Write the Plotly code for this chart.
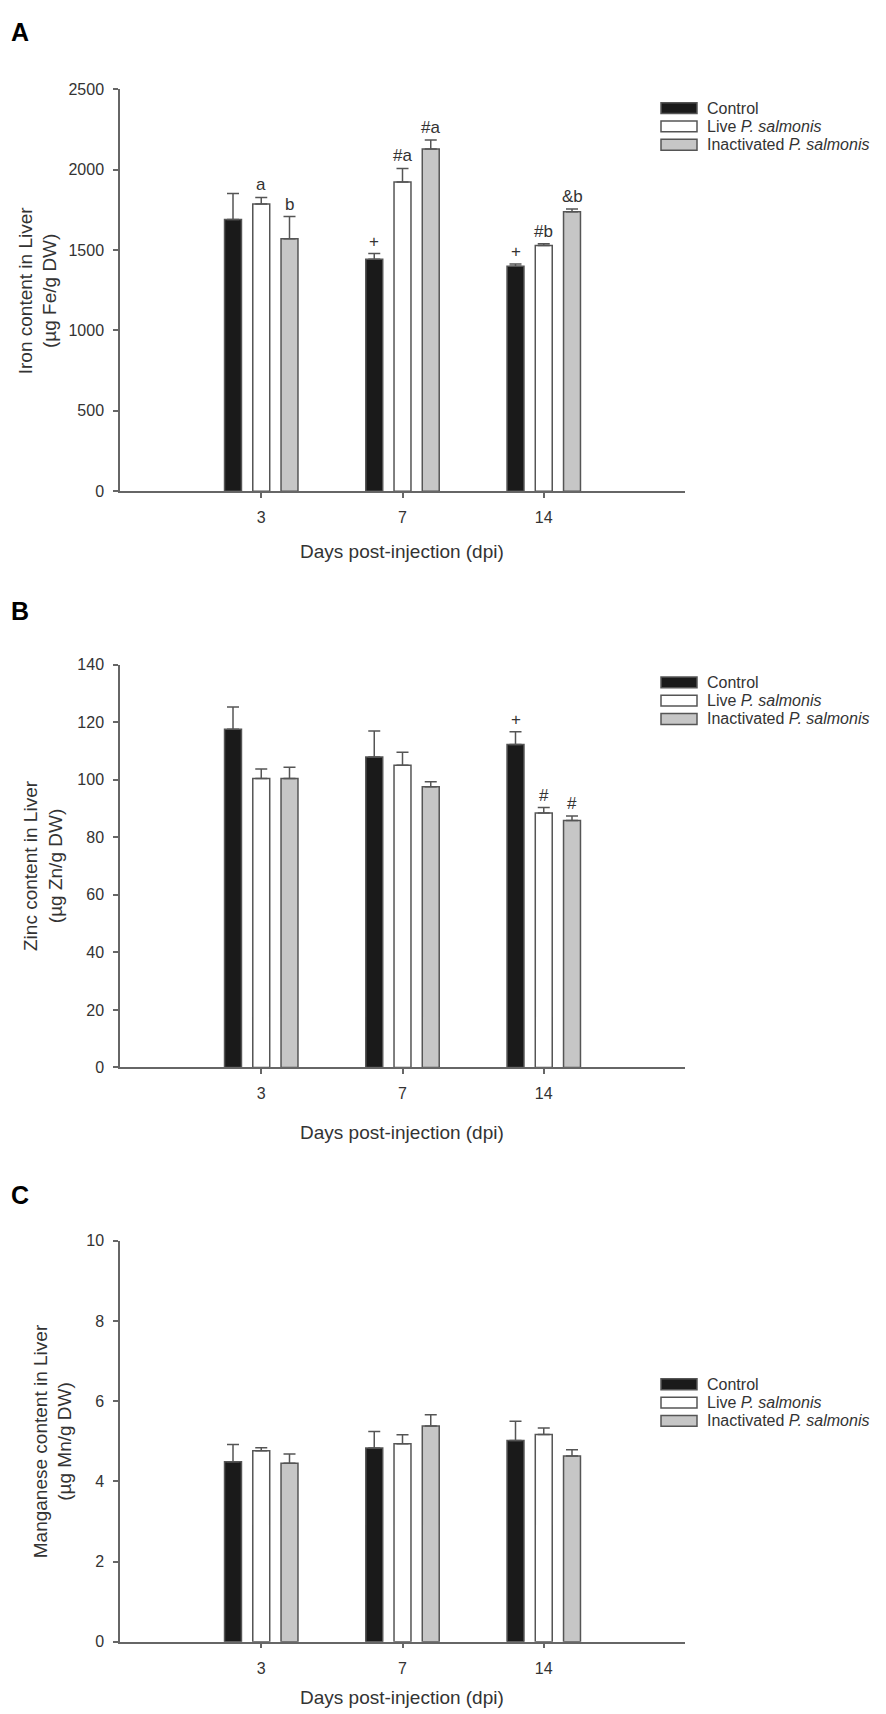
import plotly.graph_objects as go
from plotly.subplots import make_subplots

W, H = 886, 1714

days = ['3', '7', '14']
group_names = ['Control', 'Live <i>P. salmonis</i>', 'Inactivated <i>P. salmonis</i>']
group_fill = ['#1a1a1a', '#ffffff', '#c6c6c6']

# panel A - iron (µg Fe/g DW), mean and upper SE
iron_control = [1690, 1443, 1400]
iron_control_se = [162, 35, 14]
iron_live = [1786, 1923, 1528]
iron_live_se = [41, 85, 11]
iron_inact = [1570, 2128, 1738]
iron_inact_se = [138, 57, 17]
iron_marks = [['', '+', '+'], ['a', '#a', '#b'], ['b', '#a', '&b']]

# panel B - zinc (µg Zn/g DW)
zinc_control = [117.5, 107.9, 112.2]
zinc_control_se = [7.7, 9.0, 4.4]
zinc_live = [100.4, 105.0, 88.4]
zinc_live_se = [3.3, 4.5, 1.9]
zinc_inact = [100.4, 97.5, 85.8]
zinc_inact_se = [3.9, 1.8, 1.6]
zinc_marks = [['', '', '+'], ['', '', '#'], ['', '', '#']]

# panel C - manganese (µg Mn/g DW)
mn_control = [4.49, 4.83, 5.02]
mn_control_se = [0.43, 0.41, 0.48]
mn_live = [4.76, 4.94, 5.17]
mn_live_se = [0.08, 0.22, 0.16]
mn_inact = [4.45, 5.38, 4.63]
mn_inact_se = [0.23, 0.28, 0.16]
mn_marks = [['', '', ''], ['', '', ''], ['', '', '']]

panels = [
    dict(letter='A', ytitle='Iron content in Liver<br>(µg Fe/g DW)', yrange=[0, 2500], dtick=500,
         means=[iron_control, iron_live, iron_inact],
         errs=[iron_control_se, iron_live_se, iron_inact_se], marks=iron_marks,
         top=74, bottom=480, letter_y=16, ytitle_x=30, xtitle_y=541, legend_y=93),
    dict(letter='B', ytitle='Zinc content in Liver<br>(µg Zn/g DW)', yrange=[0, 140], dtick=20,
         means=[zinc_control, zinc_live, zinc_inact],
         errs=[zinc_control_se, zinc_live_se, zinc_inact_se], marks=zinc_marks,
         top=655, bottom=1062, letter_y=601, ytitle_x=35, xtitle_y=1128, legend_y=673),
    dict(letter='C', ytitle='Manganese content in Liver<br>(µg Mn/g DW)', yrange=[0, 10], dtick=2,
         means=[mn_control, mn_live, mn_inact],
         errs=[mn_control_se, mn_live_se, mn_inact_se], marks=mn_marks,
         top=1237, bottom=1642, letter_y=1191, ytitle_x=45, xtitle_y=1698, legend_y=1382),
]

FONT = 'Liberation Sans, Arial, sans-serif'
TXT = '#333333'
AX = '#666666'
offsets = [-0.2, 0.0, 0.2]


def px(v):
    return v / W


def py(v):
    return 1 - v / H


fig = make_subplots(rows=3, cols=1)
annotations = []
shapes = []

for i, p in enumerate(panels):
    row = i + 1
    sfx = '' if row == 1 else str(row)
    for j in range(3):
        fig.add_trace(go.Bar(
            x=days, y=p['means'][j], name=group_names[j],
            marker=dict(color=group_fill[j], line=dict(color='#555555', width=1.5)),
            error_y=dict(type='data', array=p['errs'][j], arrayminus=[0] * 3, symmetric=False,
                         color='#555555', thickness=1.5, width=6),
            showlegend=False,
        ), row=row, col=1)
        # significance marks above the error bars
        for k, m in enumerate(p['marks'][j]):
            if m:
                annotations.append(dict(
                    x=k + offsets[j], y=p['means'][j][k] + p['errs'][j][k],
                    xref='x' + sfx, yref='y' + sfx, text=m, showarrow=False,
                    yanchor='bottom', yshift=1, font=dict(size=17, color=TXT, family=FONT)))

    fig.update_xaxes(type='category', range=[-1, 3], domain=[px(112), px(677)],
                     showline=True, linecolor=AX, linewidth=1.5, ticks='outside',
                     ticklen=5, tickwidth=1.5, tickcolor=AX, showgrid=False, zeroline=False,
                     tickfont=dict(size=16, color=TXT, family=FONT), ticklabelstandoff=6,
                     row=row, col=1)
    fig.update_yaxes(range=p['yrange'], dtick=p['dtick'], domain=[py(p['bottom']), py(p['top'])],
                     showline=True, linecolor=AX, linewidth=1.5, ticks='outside',
                     ticklen=5, tickwidth=1.5, tickcolor=AX, showgrid=False, zeroline=False,
                     tickfont=dict(size=16, color=TXT, family=FONT), ticklabelstandoff=6,
                     row=row, col=1)

    # panel letter
    annotations.append(dict(x=px(1), y=py(p['letter_y']), xref='paper', yref='paper',
                            text='<b>' + p['letter'] + '</b>', showarrow=False,
                            xanchor='left', yanchor='middle',
                            font=dict(size=25, color='#000000', family=FONT)))
    # axis titles
    annotations.append(dict(x=px(p['ytitle_x']), y=py((p['top'] + p['bottom']) / 2),
                            xref='paper', yref='paper', text=p['ytitle'], showarrow=False,
                            textangle=-90, xanchor='center', yanchor='middle',
                            font=dict(size=19, color=TXT, family=FONT)))
    annotations.append(dict(x=px(394), y=py(p['xtitle_y']), xref='paper', yref='paper',
                            text='Days post-injection (dpi)', showarrow=False,
                            xanchor='center', yanchor='middle',
                            font=dict(size=19, color=TXT, family=FONT)))
    # legend box
    for j in range(3):
        yc = p['legend_y'] + j * 18.5
        shapes.append(dict(type='rect', xref='paper', yref='paper',
                           x0=px(653), x1=px(689), y0=py(yc + 5.5), y1=py(yc - 5.5),
                           fillcolor=group_fill[j], line=dict(color='#555555', width=1.5)))
        annotations.append(dict(x=px(697), y=py(yc), xref='paper', yref='paper',
                                text=group_names[j], showarrow=False,
                                xanchor='left', yanchor='middle',
                                font=dict(size=16, color=TXT, family=FONT)))

fig.update_layout(
    width=W, height=H,
    margin=dict(l=0, r=0, t=0, b=0),
    barmode='group', bargap=0.4, bargroupgap=0.4,
    paper_bgcolor='white', plot_bgcolor='white',
    annotations=annotations, shapes=shapes,
    showlegend=False,
)

fig.write_html("out.html")
